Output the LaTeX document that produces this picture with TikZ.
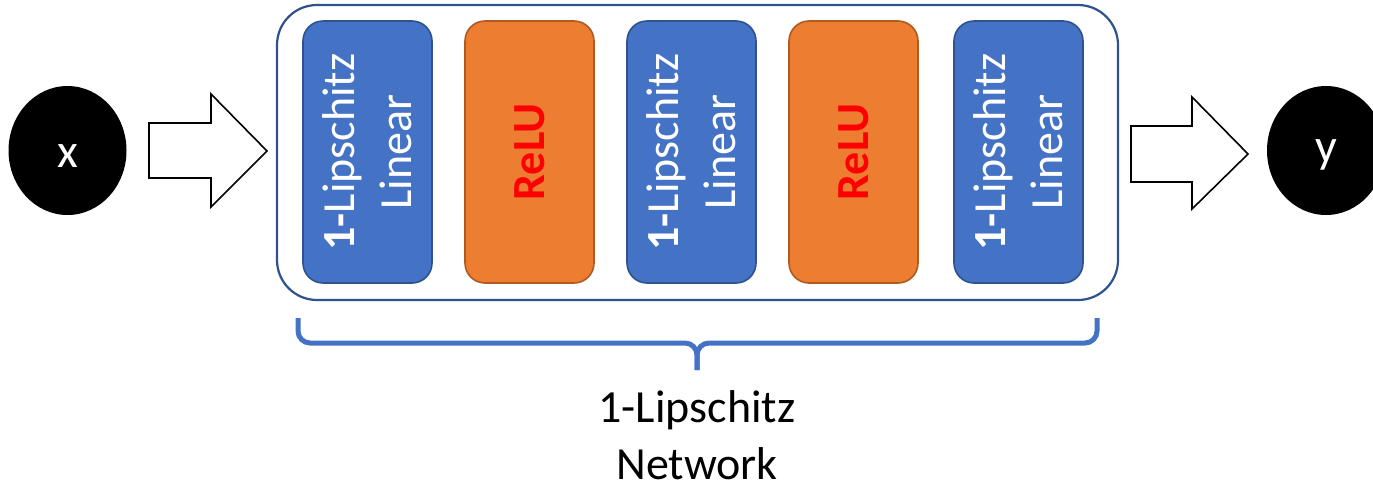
\documentclass[tikz,border=0pt]{standalone}
\usepackage{fontspec}
\setmainfont{Carlito}
\usetikzlibrary{shapes.geometric}
\definecolor{lblue}{HTML}{4472C4}
\definecolor{dblue}{HTML}{2F528F}
\definecolor{lorange}{HTML}{ED7D31}
\definecolor{dorange}{HTML}{AE5A21}
\definecolor{bred}{HTML}{FF0000}
\tikzset{
  linbox/.style={draw=dblue, line width=1.6pt, fill=lblue, rounded corners=20pt, minimum width=129pt, minimum height=262pt, inner sep=0pt},
  relubox/.style={draw=dorange, line width=1.6pt, fill=lorange, rounded corners=20pt, minimum width=129pt, minimum height=262pt, inner sep=0pt},
  lintext/.style={rotate=90, text=white, align=center, font=\fontsize{46}{57}\selectfont},
  relutext/.style={rotate=90, text=bred, font=\fontsize{46}{57}\selectfont\bfseries},
  io/.style={ellipse, fill=black, text=white, minimum width=118pt, minimum height=129pt, inner sep=0pt, font=\fontsize{48}{58}\selectfont},
  blockarrow/.style={draw=black, line width=1.6pt, fill=white, line join=miter},
  brace/.style={draw=lblue, line width=5pt, rounded corners=12pt},
}
\begin{document}
\begin{tikzpicture}[x=1pt,y=-1pt]
\useasboundingbox (0,0) rectangle (1373,488);
% outer container
\node[draw=dblue, line width=2.2pt, rounded corners=40pt, minimum width=841pt, minimum height=295pt, inner sep=0pt] (net) at (697.5,152.5) {};
% layers
\node[linbox] (l1) at (367.5,152) {};
\node[lintext] at (l1.center) {\textbf{1-}Lipschitz\\Linear};
\node[relubox] (r1) at (529.5,152) {};
\node[relutext] at (r1.center) {ReLU};
\node[linbox] (l2) at (691.5,152) {};
\node[lintext] at (l2.center) {\textbf{1-}Lipschitz\\Linear};
\node[relubox] (r2) at (853.5,152) {};
\node[relutext] at (r2.center) {ReLU};
\node[linbox] (l3) at (1018.5,152) {};
\node[lintext] at (l3.center) {\textbf{1-}Lipschitz\\Linear};
% input/output
\node[io] (x) at (67.5,150.5) {};
\node[text=white, font=\fontsize{48}{58}\selectfont] at ([yshift=-6pt]x.center) {x};
\node[io] (y) at (1326,150.5) {};
\node[text=white, font=\fontsize{48}{58}\selectfont] at ([yshift=-4pt]y.center) {y};
% block arrows
\coordinate (a1) at (149,151);
\draw[blockarrow] (a1) ++(0,-28) -- ++(62,0) -- ++(0,-29) -- (267,151) -- (211,207) -- (211,178) -- (149,178) -- cycle;
\coordinate (a2) at (1131,154);
\draw[blockarrow] (a2) ++(0,-28) -- ++(61,0) -- ++(0,-29) -- (1248,154) -- (1192,209) -- (1192,182) -- (1131,182) -- cycle;
% brace
\coordinate (bl) at (298,318);
\coordinate (br) at (1097,318);
\coordinate (bm) at (697,370);
\draw[brace] (bl) -- (298,343) -- (697,343) -- (bm);
\draw[brace] (br) -- (1097,343) -- (697,343) -- (bm);
% label
\node[align=center, font=\fontsize{46}{57}\selectfont, anchor=north, inner sep=0pt, text depth=0pt] (lbl) at (697,390) {1-Lipschitz\\Network};
\end{tikzpicture}
\end{document}
